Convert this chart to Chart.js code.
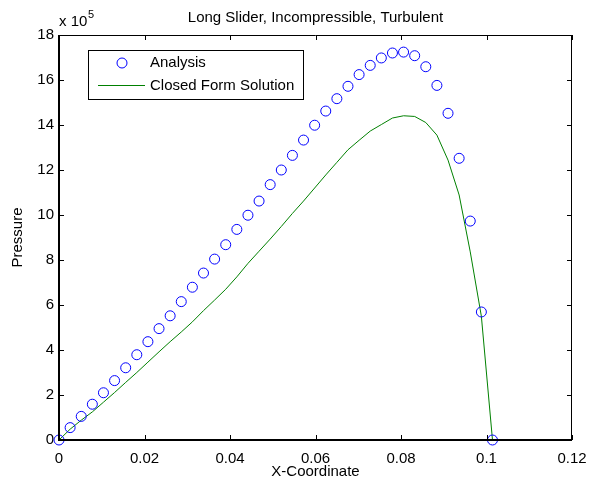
<!DOCTYPE html>
<html>
<head>
<meta charset="utf-8">
<title>Long Slider, Incompressible, Turbulent</title>
<script src="https://cdn.jsdelivr.net/npm/chart.js@4.4.1/dist/chart.umd.min.js"></script>
<style>
    html, body { margin: 0; padding: 0; background: #ffffff; }
    #wrap { width: 590px; height: 481px; position: relative; }
</style>
</head>
<body>
<div id="wrap"><canvas id="pressureChart"></canvas></div>
<script>
// X-coordinate of each station
const X_COORD = [
    0, 0.0026, 0.0052, 0.0078, 0.0104, 0.013, 0.0156, 0.0182, 0.0208, 0.0234,
    0.026, 0.0286, 0.0312, 0.0338, 0.0364, 0.039, 0.0416, 0.0442, 0.0468, 0.0494,
    0.052, 0.0546, 0.0572, 0.0598, 0.0624, 0.065, 0.0676, 0.0702, 0.0728, 0.0754,
    0.078, 0.0806, 0.0832, 0.0858, 0.0884, 0.091, 0.0936, 0.0962, 0.0988, 0.1014
];

// Pressure (x 10^5), analysis (circles)
const ANALYSIS = [
    0, 0.55, 1.05, 1.59, 2.10, 2.64, 3.21, 3.79, 4.37, 4.95,
    5.52, 6.15, 6.79, 7.42, 8.04, 8.68, 9.36, 9.99, 10.62, 11.35,
    12.0, 12.65, 13.33, 13.99, 14.62, 15.17, 15.72, 16.24, 16.65, 16.98,
    17.2, 17.24, 17.08, 16.59, 15.76, 14.52, 12.52, 9.73, 5.69, 0
];

// Pressure (x 10^5), closed form solution (line)
const CLOSED_FORM = [
    0, 0.48, 0.88, 1.25, 1.68, 2.11, 2.56, 3.0, 3.46, 3.92,
    4.37, 4.8, 5.25, 5.75, 6.22, 6.7, 7.25, 7.85, 8.39, 8.93,
    9.49, 10.07, 10.62, 11.2, 11.78, 12.34, 12.9, 13.32, 13.73, 14.02,
    14.31, 14.41, 14.38, 14.11, 13.55, 12.44, 10.89, 8.36, 5.5, 0
];

const SERIES_LABELS = ['Analysis', 'Closed Form Solution'];
const X_TICKS = [0, 0.02, 0.04, 0.06, 0.08, 0.1, 0.12];
const Y_TICKS = [0, 2, 4, 6, 8, 10, 12, 14, 16, 18];

const TITLE = 'Long Slider, Incompressible, Turbulent';
const X_LABEL = 'X-Coordinate';
const Y_LABEL = 'Pressure';

const FONT_FAMILY = "Arial, 'Liberation Sans', Helvetica, sans-serif";
const BLUE = '#0000ff';
const GREEN = '#008000';

function toPoints(xs, ys) {
    return xs.map((x, i) => ({ x: x, y: ys[i] }));
}

// matlab-style decorations: box, inward ticks, title, labels, legend
const matlabDecor = {
    id: 'matlabDecor',
    afterDraw(chart) {
        const ctx = chart.ctx;
        const a = chart.chartArea;
        const xs = chart.scales.x;
        const ys = chart.scales.y;
        const tick = 5;

        ctx.save();
        ctx.strokeStyle = '#000';
        ctx.lineWidth = 1;
        ctx.beginPath();
        X_TICKS.forEach(v => {
            const px = Math.round(xs.getPixelForValue(v)) + 0.5;
            ctx.moveTo(px, a.bottom); ctx.lineTo(px, a.bottom - tick);
            ctx.moveTo(px, a.top); ctx.lineTo(px, a.top + tick);
        });
        Y_TICKS.forEach(v => {
            const py = Math.round(ys.getPixelForValue(v)) + 0.5;
            ctx.moveTo(a.left, py); ctx.lineTo(a.left + tick, py);
            ctx.moveTo(a.right, py); ctx.lineTo(a.right - tick, py);
        });
        ctx.stroke();

        // box
        ctx.beginPath();
        ctx.moveTo(a.left, a.top + 0.5); ctx.lineTo(a.right, a.top + 0.5);
        ctx.moveTo(a.right - 0.5, a.top); ctx.lineTo(a.right - 0.5, a.bottom);
        ctx.stroke();
        ctx.lineWidth = 2;
        ctx.beginPath();
        ctx.moveTo(a.left, a.top); ctx.lineTo(a.left, a.bottom);
        ctx.lineTo(a.right, a.bottom);
        ctx.stroke();

        // title and labels
        ctx.fillStyle = '#000';
        ctx.font = '15px ' + FONT_FAMILY;
        ctx.textAlign = 'center';
        ctx.textBaseline = 'middle';
        ctx.fillText(TITLE, (a.left + a.right) / 2, 18);
        ctx.fillText(X_LABEL, (a.left + a.right) / 2, 472);
        ctx.save();
        ctx.translate(18, (a.top + a.bottom) / 2);
        ctx.rotate(-Math.PI / 2);
        ctx.fillText(Y_LABEL, 0, 0);
        ctx.restore();

        // exponent label
        ctx.textAlign = 'left';
        ctx.fillText('x 10', 59, 22);
        ctx.font = '11px ' + FONT_FAMILY;
        ctx.fillText('5', 88, 15);

        // legend
        ctx.fillStyle = '#fff';
        ctx.fillRect(88, 50, 215, 49);
        ctx.lineWidth = 1;
        ctx.strokeStyle = '#000';
        ctx.strokeRect(88.5, 50.5, 215, 49);
        ctx.strokeStyle = BLUE;
        ctx.beginPath();
        ctx.arc(122, 63, 5, 0, Math.PI * 2);
        ctx.stroke();
        ctx.strokeStyle = GREEN;
        ctx.beginPath();
        ctx.moveTo(98, 85.5); ctx.lineTo(145, 85.5);
        ctx.stroke();
        ctx.fillStyle = '#000';
        ctx.font = '15px ' + FONT_FAMILY;
        ctx.fillText(SERIES_LABELS[0], 150, 63);
        ctx.fillText(SERIES_LABELS[1], 150, 86);
        ctx.restore();
    }
};

function initializePressureChart() {
    const ctx = document.getElementById('pressureChart');
    if (!ctx) return;

    new Chart(ctx, {
        type: 'scatter',
        data: {
            datasets: [
                {
                    label: SERIES_LABELS[0],
                    data: toPoints(X_COORD, ANALYSIS),
                    showLine: false,
                    pointStyle: 'circle',
                    pointRadius: 5,
                    pointBorderWidth: 1,
                    borderColor: BLUE,
                    backgroundColor: 'rgba(0,0,0,0)',
                    clip: false,
                    order: 1
                },
                {
                    label: SERIES_LABELS[1],
                    data: toPoints(X_COORD, CLOSED_FORM),
                    showLine: true,
                    pointRadius: 0,
                    borderWidth: 1,
                    borderColor: GREEN,
                    backgroundColor: GREEN,
                    tension: 0,
                    order: 2
                }
            ]
        },
        options: {
            responsive: false,
            animation: false,
            layout: { padding: { top: 35, right: 18, left: 0, bottom: 0 } },
            plugins: {
                legend: { display: false },
                title: { display: false },
                tooltip: { enabled: false }
            },
            scales: {
                x: {
                    type: 'linear',
                    min: 0,
                    max: 0.12,
                    afterFit: s => { s.height = 41; s.paddingRight = 0; s.paddingLeft = 0; },
                    afterBuildTicks: s => { s.ticks = X_TICKS.map(v => ({ value: v })); },
                    grid: { display: false, drawTicks: false },
                    border: { display: false },
                    ticks: {
                        padding: 10,
                        color: '#000',
                        font: { family: FONT_FAMILY, size: 15 },
                        maxRotation: 0,
                        callback: v => String(v)
                    }
                },
                y: {
                    type: 'linear',
                    min: 0,
                    max: 18,
                    afterFit: s => { s.width = 59; s.paddingTop = 0; s.paddingBottom = 0; },
                    afterBuildTicks: s => { s.ticks = Y_TICKS.map(v => ({ value: v })); },
                    grid: { display: false, drawTicks: false },
                    border: { display: false },
                    ticks: {
                        padding: 5,
                        color: '#000',
                        font: { family: FONT_FAMILY, size: 15 },
                        callback: v => String(v)
                    }
                }
            }
        },
        plugins: [matlabDecor]
    });
}

window.onload = function() {
    const c = document.getElementById('pressureChart');
    c.width = 590;
    c.height = 481;
    initializePressureChart();
};
</script>
</body>
</html>
